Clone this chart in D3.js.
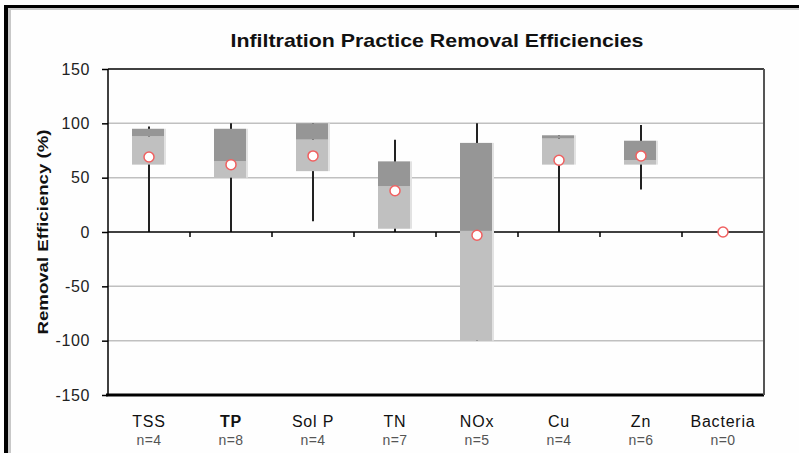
<!DOCTYPE html>
<html><head><meta charset="utf-8">
<script src="https://cdn.jsdelivr.net/npm/d3@7"></script>
<style>body{margin:0;background:#fff;}svg{display:block;}</style>
</head><body>
<svg id="c" width="799" height="453"></svg>
<script>
const categories = ["TSS","TP","Sol P","TN","NOx","Cu","Zn","Bacteria"];
const counts = [4,8,4,7,5,4,6,0];
const boldLabel = [false,true,false,false,false,false,false,false];
const whiskerMax = [97,100,100,85,100,89,98.5,null];
const whiskerMin = [0,0,10,0,-100,0,39,null];
const q1 = [62,50,56,3,-100,62,62,null];
const median = [88,65,85,42,1,86,66,null];
const q3 = [95,95,100,65,82,89,84,null];
const means = [69,62,70,38,-3,66,70,0];
const yTicks = [150,100,50,0,-50,-100,-150];
const title = "Infiltration Practice Removal Efficiencies";
const yTitle = "Removal Efficiency (%)";

const svg = d3.select("#c");
const L=108,R=764,T=69,B=395;
const x = d3.scaleBand().domain(categories).range([L,R]);
const y = d3.scaleLinear().domain([-150,150]).range([B,T]);
const font = "Liberation Sans, Arial, sans-serif";

// outer frame
svg.append("rect").attr("x",0).attr("y",0).attr("width",799).attr("height",453).attr("fill","#fefefe");
svg.append("rect").attr("x",8).attr("y",8).attr("width",3).attr("height",445).attr("fill","#c8c8c8");
svg.append("rect").attr("x",8).attr("y",8).attr("width",791).attr("height",2).attr("fill","#c8c8c8");
svg.append("rect").attr("x",4).attr("y",5).attr("width",4).attr("height",448).attr("fill","#000");
svg.append("rect").attr("x",4).attr("y",5).attr("width",795).attr("height",3).attr("fill","#000");

// title
svg.append("text").attr("x",437).attr("y",47).attr("text-anchor","middle")
  .attr("font-family",font).attr("font-weight","bold").attr("font-size",19)
  .attr("textLength",413).attr("lengthAdjust","spacingAndGlyphs").attr("fill","#111").text(title);

// gridlines
const g = svg.append("g");
yTicks.filter(v=>v!==0 && v!==150 && v!==-150).forEach(v=>{
  g.append("line").attr("x1",L).attr("x2",R).attr("y1",y(v)).attr("y2",y(v))
   .attr("stroke","#c0c0c0").attr("stroke-width",1.5);
});

// y axis
const yAxis = d3.axisLeft(y).tickValues(yTicks).tickSize(6).tickPadding(12).tickFormat(d=>d);
const ya = svg.append("g").attr("transform",`translate(${L},0)`).call(yAxis);
ya.select(".domain").remove();
ya.selectAll(".tick line").attr("stroke","#000").attr("stroke-width",1.5);
ya.selectAll(".tick text").attr("font-family",font).attr("font-size",16).attr("letter-spacing",0.6).attr("fill","#222");
svg.append("line").attr("x1",L).attr("x2",L).attr("y1",T).attr("y2",B).attr("stroke","#000").attr("stroke-width",1.5);

// y title
svg.append("text").attr("transform",`translate(48,${(T+B)/2}) rotate(-90)`).attr("text-anchor","middle")
  .attr("font-family",font).attr("font-weight","bold").attr("font-size",15)
  .attr("textLength",205).attr("lengthAdjust","spacingAndGlyphs").attr("fill","#111").text(yTitle);

// whiskers
const bw = x.bandwidth();
categories.forEach((c,i)=>{
  const cx = x(c)+bw/2;
  if (whiskerMax[i]!==null) {
    svg.append("line").attr("x1",cx).attr("x2",cx).attr("y1",y(whiskerMax[i])).attr("y2",y(whiskerMin[i]))
      .attr("stroke","#222").attr("stroke-width",2);
  }
});

// zero line with category ticks
svg.append("line").attr("x1",L).attr("x2",R).attr("y1",y(0)).attr("y2",y(0)).attr("stroke","#000").attr("stroke-width",1.5);
categories.slice(1).forEach(c=>{
  svg.append("line").attr("x1",x(c)).attr("x2",x(c)).attr("y1",y(0)).attr("y2",y(0)+5).attr("stroke","#000").attr("stroke-width",1.5);
});

// boxes
categories.forEach((c,i)=>{
  if (q1[i]===null) return;
  const cx = x(c)+bw/2;
  const x0 = cx-17, w = 32;
  svg.append("rect").attr("x",x0+w).attr("width",2).attr("y",y(q3[i])).attr("height",y(q1[i])-y(q3[i])).attr("fill","#e2e2e2");
  svg.append("rect").attr("x",x0).attr("width",w).attr("y",y(median[i])).attr("height",y(q1[i])-y(median[i])).attr("fill","#c0c0c0");
  svg.append("rect").attr("x",x0).attr("width",w).attr("y",y(q3[i])).attr("height",y(median[i])-y(q3[i])).attr("fill","#969696");
});

// top, bottom, right borders
svg.append("line").attr("x1",L).attr("x2",R).attr("y1",T).attr("y2",T).attr("stroke","#000").attr("stroke-width",1.5);
svg.append("line").attr("x1",L-2).attr("x2",R).attr("y1",B).attr("y2",B).attr("stroke","#000").attr("stroke-width",3);
svg.append("line").attr("x1",R).attr("x2",R).attr("y1",T).attr("y2",B).attr("stroke","#555").attr("stroke-width",2);

// mean markers
categories.forEach((c,i)=>{
  const cx = x(c)+bw/2;
  svg.append("circle").attr("cx",cx).attr("cy",y(means[i])).attr("r",5)
    .attr("fill","#fff").attr("stroke","#f06060").attr("stroke-width",1.5);
});

// x labels
categories.forEach((c,i)=>{
  const cx = x(c)+bw/2;
  svg.append("text").attr("x",cx).attr("y",427).attr("text-anchor","middle").attr("font-family",font)
    .attr("font-size",16).attr("letter-spacing",0.8).attr("font-weight",boldLabel[i]?"bold":"normal").attr("fill","#111").text(c);
  svg.append("text").attr("x",cx).attr("y",445).attr("text-anchor","middle").attr("font-family",font)
    .attr("font-size",14).attr("letter-spacing",0.5).attr("fill","#555").text("n="+counts[i]);
});
</script>
</body></html>
